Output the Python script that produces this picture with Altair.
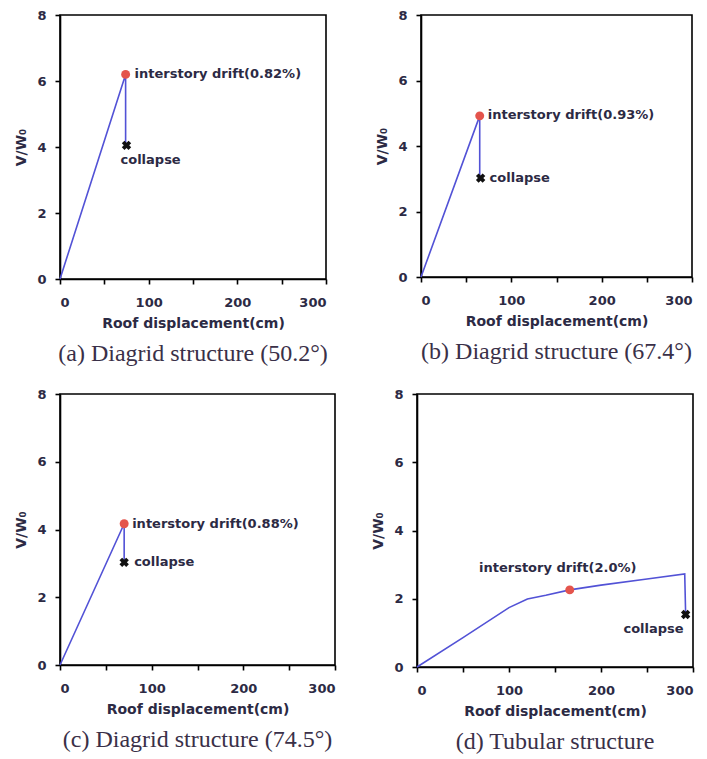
import altair as alt
import pandas as pd

# ---------------- data ----------------
panel_ids = ["a", "b", "c", "d"]
subtitles = [
    "(a) Diagrid structure (50.2°)",
    "(b) Diagrid structure (67.4°)",
    "(c) Diagrid structure (74.5°)",
    "(d) Tubular structure",
]
curve_x = {
    "a": [0, 74, 74],
    "b": [0, 65, 65],
    "c": [0, 70, 70],
    "d": [0, 50, 100, 120, 140, 166, 200, 250, 291, 292],
}
curve_y = {
    "a": [0, 6.2, 4.05],
    "b": [0, 4.92, 3.02],
    "c": [0, 4.17, 3.03],
    "d": [0, 0.86, 1.74, 1.99, 2.1, 2.26, 2.4, 2.58, 2.73, 1.54],
}
drift_x = [74, 65, 70, 166]
drift_y = [6.2, 4.92, 4.17, 2.26]
drift_labels = [
    "interstory drift(0.82%)",
    "interstory drift(0.93%)",
    "interstory drift(0.88%)",
    "interstory drift(2.0%)",
]
collapse_x = [75, 66, 70, 292]
collapse_y = [4.05, 3.02, 3.03, 1.54]
collapse_label = "collapse"

x_ticks = [0, 50, 100, 150, 200, 250, 300]
y_ticks = [0, 1, 2, 3, 4, 5, 6, 7, 8]

# ---------------- style ----------------
SANS = "DejaVu Sans"
SERIF = "Liberation Serif"
TXT = "#2c2a44"
LINE = "#5252d6"
DOT = "#e4544c"

sizes = {"a": (266, 264), "b": (271, 262), "c": (275, 271), "d": (276, 273)}
drift_off = {
    "a": dict(dx=9, dy=0, align="left"),
    "b": dict(dx=8, dy=-1, align="left"),
    "c": dict(dx=8, dy=0, align="left"),
    "d": dict(dx=-12, dy=-22, align="center"),
}
coll_off = {
    "a": dict(dx=-6, dy=15, align="left"),
    "b": dict(dx=9, dy=0, align="left"),
    "c": dict(dx=10, dy=0, align="left"),
    "d": dict(dx=-2, dy=15, align="right"),
}

axis_style = dict(
    grid=False, domainColor="black", domainWidth=1.6, tickColor="black",
    tickWidth=1.6, tickSize=5,
    labelFont=SANS, labelFontSize=13, labelFontWeight="bold", labelColor=TXT,
    titleFont=SANS, titleFontSize=14, titleFontWeight="bold", titleColor=TXT,
)


def panel(i):
    pid = panel_ids[i]
    w, h = sizes[pid]
    cdf = pd.DataFrame({"x": curve_x[pid], "y": curve_y[pid],
                        "o": list(range(len(curve_x[pid])))})
    ddf = pd.DataFrame({"x": [drift_x[i]], "y": [drift_y[i]], "t": [drift_labels[i]]})
    kdf = pd.DataFrame({"x": [collapse_x[i]], "y": [collapse_y[i]], "t": [collapse_label]})

    xs = alt.Scale(domain=[0, 300], nice=False)
    ys = alt.Scale(domain=[0, 8], nice=False)
    xax = alt.Axis(values=x_ticks, labelExpr="datum.value % 100 === 0 ? datum.label : ''",
                   title="Roof displacement(cm)", labelPadding=12, titlePadding=7,
                   **axis_style)
    yax = alt.Axis(values=y_ticks, labelExpr="datum.value % 2 === 0 ? datum.label : ''",
                   title="V/W₀", labelPadding=9, titlePadding=8, **axis_style)

    line = alt.Chart(cdf).mark_line(color=LINE, strokeWidth=1.6).encode(
        x=alt.X("x:Q", scale=xs, axis=xax),
        y=alt.Y("y:Q", scale=ys, axis=yax),
        order="o:Q",
    )
    dot = alt.Chart(ddf).mark_point(shape="circle", filled=True, color=DOT,
                                    size=80, opacity=1).encode(x="x:Q", y="y:Q")
    dtxt = alt.Chart(ddf).mark_text(font=SANS, fontSize=13, fontWeight="bold",
                                    color=TXT, baseline="middle",
                                    **drift_off[pid]).encode(x="x:Q", y="y:Q", text="t:N")
    cross = alt.Chart(kdf).mark_point(shape="cross", angle=45, filled=True,
                                      color="#111111", size=90, opacity=1).encode(
        x="x:Q", y="y:Q")
    ctxt = alt.Chart(kdf).mark_text(font=SANS, fontSize=13, fontWeight="bold",
                                    color=TXT, baseline="middle",
                                    **coll_off[pid]).encode(x="x:Q", y="y:Q", text="t:N")
    return alt.layer(line, dot, cross, dtxt, ctxt).properties(
        width=w, height=h,
        title=alt.TitleParams(subtitles[i], orient="bottom", anchor="middle",
                              frame="group", font=SERIF, fontSize=24,
                              fontWeight="normal", color="#3a3048", offset=12),
    )


top = alt.hconcat(panel(0), panel(1), spacing=46)
bottom = alt.hconcat(panel(2), panel(3), spacing=34)
chart = alt.vconcat(top, bottom, spacing=20).properties(
    padding={"left": 14, "top": 8, "right": 2, "bottom": 2},
    background="white",
).configure_view(stroke="black", strokeWidth=1.6)

chart.save("out.html", embed_options={"renderer": "svg", "actions": False})
